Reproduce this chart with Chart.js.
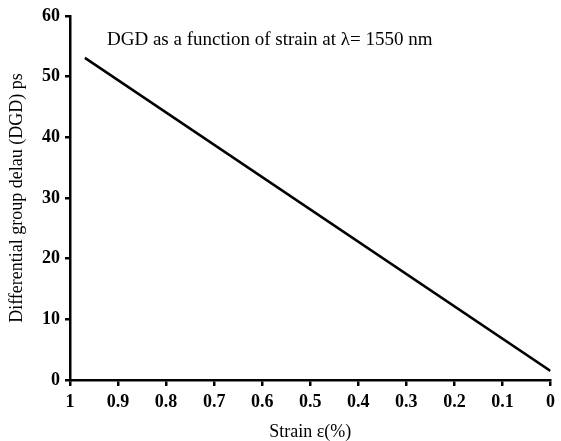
<!DOCTYPE html>
<html>
<head>
<meta charset="utf-8">
<script src="https://cdn.jsdelivr.net/npm/chart.js@4/dist/chart.umd.min.js"></script>
<style>
  html, body { margin: 0; padding: 0; background: #fff; }
  #wrap { width: 561px; height: 441px; }
</style>
</head>
<body>
<div id="wrap"><canvas id="dgdChart" width="561" height="441"></canvas></div>
<script>
// strain (%) and DGD (ps)
var strainVals = [0.969, 0];
var dgdVals = [53.1, 1.5];
var xTickLabels = ['0', '0.1', '0.2', '0.3', '0.4', '0.5', '0.6', '0.7', '0.8', '0.9', '1'];
var yTickLabels = ['0', '10', '20', '30', '40', '50', '60'];
var noteText = 'DGD as a function of strain at \u03bb= 1550 nm';
var notePos = [0.923, 56.0];

var serif = "'Liberation Serif', 'Times New Roman', serif";

// draws the note inside the plot, placed in data coordinates
var notePlugin = {
    id: 'notePlugin',
    afterDraw: function (chart) {
        var ctx = chart.ctx;
        var px = chart.scales.x.getPixelForValue(notePos[0]);
        var py = chart.scales.y.getPixelForValue(notePos[1]);
        ctx.save();
        ctx.font = '19px ' + serif;
        ctx.fillStyle = '#000';
        ctx.textAlign = 'left';
        ctx.textBaseline = 'middle';
        ctx.fillText(noteText, px, py);
        ctx.restore();
    }
};

var points = strainVals.map(function (v, i) { return { x: v, y: dgdVals[i] }; });

var ctx = document.getElementById('dgdChart').getContext('2d');
new Chart(ctx, {
    type: 'line',
    data: {
        datasets: [{
            label: 'DGD',
            data: points,
            borderColor: '#000',
            borderWidth: 2.5,
            pointRadius: 0,
            fill: false,
            tension: 0
        }]
    },
    options: {
        responsive: false,
        animation: false,
        layout: { padding: { top: 16, right: 9, left: 0, bottom: 0 } },
        plugins: { legend: { display: false }, tooltip: { enabled: false } },
        scales: {
            x: {
                type: 'linear',
                reverse: true,
                min: 0,
                max: 1,
                afterFit: function (scale) { scale.height = 61; },
                border: { color: '#000', width: 2.5 },
                grid: { drawOnChartArea: false, color: '#000', lineWidth: 2.5, tickLength: 6 },
                ticks: {
                    stepSize: 0.1,
                    color: '#000',
                    padding: 6,
                    maxRotation: 0,
                    font: { family: serif, size: 18, weight: 'bold' },
                    callback: function (value) {
                        return xTickLabels[Math.round(value * 10)];
                    }
                },
                title: {
                    display: true,
                    text: 'Strain \u03b5(%)',
                    color: '#000',
                    padding: { top: 6, bottom: -2 },
                    font: { family: serif, size: 18 }
                }
            },
            y: {
                min: 0,
                max: 60,
                afterFit: function (scale) { scale.width = 70; },
                border: { color: '#000', width: 2.5 },
                grid: { drawOnChartArea: false, color: '#000', lineWidth: 2.5, tickLength: 5 },
                ticks: {
                    stepSize: 10,
                    color: '#000',
                    padding: 5,
                    font: { family: serif, size: 18, weight: 'bold' },
                    callback: function (value) {
                        return yTickLabels[Math.round(value / 10)];
                    }
                },
                title: {
                    display: true,
                    text: 'Differential group delau (DGD) ps',
                    color: '#000',
                    padding: { top: 6, bottom: 0 },
                    font: { family: serif, size: 18 }
                }
            }
        }
    },
    plugins: [notePlugin]
});
</script>
</body>
</html>
